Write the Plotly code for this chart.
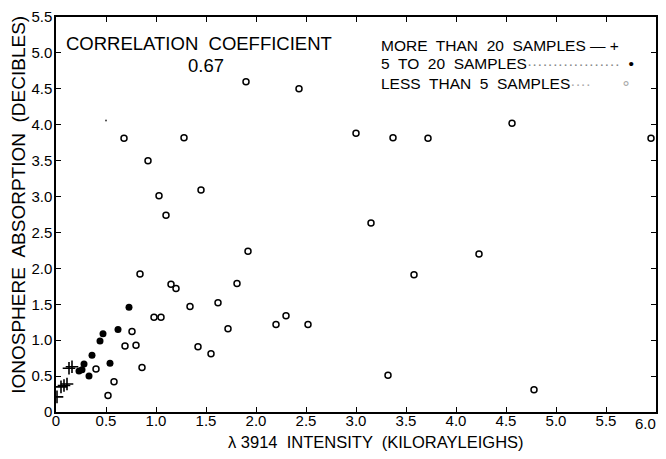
import plotly.graph_objects as go

# >20 samples (plus signs)
plus_x = [0.01, 0.05, 0.08, 0.11, 0.13, 0.16]
plus_y = [0.21, 0.35, 0.37, 0.39, 0.61, 0.63]

# 5 to 20 samples (filled dots)
dot_x = [0.73, 0.62, 0.47, 0.44, 0.36, 0.28, 0.54, 0.26, 0.23, 0.33]
dot_y = [1.46, 1.15, 1.09, 0.99, 0.79, 0.67, 0.68, 0.59, 0.57, 0.50]

# <5 samples (open circles)
circ_x = [1.90, 2.43, 0.68, 0.92, 1.03, 1.10, 1.28, 1.45,
          3.00, 3.37, 3.72, 4.56, 5.95, 3.15,
          1.92, 0.84, 1.15, 1.20, 1.81, 1.62, 1.34, 0.98, 1.05,
          2.20, 2.30, 2.52, 1.72, 0.76, 0.69, 0.80, 1.42, 1.55,
          0.86, 0.40, 0.58, 0.52,
          4.23, 3.58, 3.32, 4.78]
circ_y = [4.60, 4.50, 3.81, 3.50, 3.01, 2.74, 3.82, 3.09,
          3.88, 3.82, 3.81, 4.02, 3.81, 2.63,
          2.24, 1.92, 1.78, 1.72, 1.79, 1.52, 1.47, 1.32, 1.32,
          1.22, 1.34, 1.22, 1.16, 1.12, 0.92, 0.93, 0.91, 0.81,
          0.62, 0.60, 0.42, 0.23,
          2.20, 1.91, 0.51, 0.31]

# stray speck
speck_x = [0.50]
speck_y = [4.06]

x_ticks = [0, 0.5, 1.0, 1.5, 2.0, 2.5, 3.0, 3.5, 4.0, 4.5, 5.0, 5.5, 6.0]
x_labels = ["0", "0.5", "1.0", "1.5", "2.0", "2.5", "3.0", "3.5", "4.0", "4.5", "5.0", "5.5", "6.0"]
y_ticks = [0, 0.5, 1.0, 1.5, 2.0, 2.5, 3.0, 3.5, 4.0, 4.5, 5.0, 5.5]
y_labels = ["0", "0.5", "1.0", "1.5", "2.0", "2.5", "3.0", "3.5", "4.0", "4.5", "5.0", "5.5"]

FONT = "Liberation Sans"

fig = go.Figure()
fig.add_trace(go.Scatter(x=circ_x, y=circ_y, mode="markers",
                         marker=dict(symbol="circle-open", size=6, color="black",
                                     line=dict(width=1.5, color="black")),
                         showlegend=False))
fig.add_trace(go.Scatter(x=dot_x, y=dot_y, mode="markers",
                         marker=dict(symbol="circle", size=7, color="black"),
                         showlegend=False))
fig.add_trace(go.Scatter(x=plus_x, y=plus_y, mode="markers",
                         marker=dict(symbol="cross-thin", size=9, color="black",
                                     line=dict(width=1.6, color="black")),
                         showlegend=False))
fig.add_trace(go.Scatter(x=speck_x, y=speck_y, mode="markers",
                         marker=dict(symbol="circle", size=2, color="#444"),
                         showlegend=False))

axis_common = dict(showgrid=False, zeroline=False, showline=True, linecolor="black",
                   linewidth=1.5, mirror="ticks", ticks="inside", ticklen=5,
                   tickcolor="black", tickwidth=1, automargin=False,
                   ticklabeloverflow="allow")

tick_font = dict(family=FONT, size=15, color="black")
# last x label is drawn right-aligned at the frame edge so it is not clipped
fig.update_xaxes(range=[0, 6.0], tickvals=x_ticks, ticktext=x_labels[:-1] + [""],
                 tickfont=tick_font, ticklabelstandoff=-6, **axis_common)
fig.add_annotation(x=x_ticks[-1], y=-0.029, xref="x", yref="paper", text=x_labels[-1],
                   showarrow=False, xanchor="right", yanchor="middle", xshift=2,
                   font=tick_font)
fig.update_yaxes(range=[0, 5.5], tickvals=y_ticks, ticktext=y_labels,
                 tickfont=tick_font, ticklabelstandoff=-1, **axis_common)

# axis titles as annotations to match the off-centre positions
fig.add_annotation(x=0.533, y=-0.075, xref="paper", yref="paper",
                   text="λ 3914  INTENSITY  (KILORAYLEIGHS)", showarrow=False,
                   xanchor="center", yanchor="middle",
                   font=dict(family=FONT, size=16.5, color="black"))
fig.add_annotation(x=-0.063, y=0.525, xref="paper", yref="paper", textangle=-90,
                   text="IONOSPHERE  ABSORPTION  (DECIBLES)", showarrow=False,
                   xanchor="center", yanchor="middle",
                   font=dict(family=FONT, size=19, color="black"))

big_font = dict(family=FONT, size=18.5, color="black")
leg_font = dict(family=FONT, size=15.5, color="black")
fig.add_annotation(x=0.08, y=5.125, xref="x", yref="y", text="CORRELATION  COEFFICIENT",
                   showarrow=False, xanchor="left", yanchor="middle", font=big_font)
fig.add_annotation(x=1.5, y=4.83, xref="x", yref="y", text="0.67",
                   showarrow=False, xanchor="center", yanchor="middle", font=big_font)
fig.add_annotation(x=3.23, y=5.11, xref="x", yref="y", text="MORE  THAN  20  SAMPLES — +",
                   showarrow=False, xanchor="left", yanchor="middle", font=leg_font)
fig.add_annotation(x=3.23, y=4.85, xref="x", yref="y",
                   text="5  TO  20  SAMPLES<span style='color:#888'>··················</span>  •",
                   showarrow=False, xanchor="left", yanchor="middle", font=leg_font)
fig.add_annotation(x=3.23, y=4.58, xref="x", yref="y",
                   text="LESS  THAN  5  SAMPLES<span style='color:#aaa'>····       ∘</span>",
                   showarrow=False, xanchor="left", yanchor="middle", font=leg_font)

# page body has an 8px default margin; figure sized so no scrollbars appear
fig.update_layout(width=650, height=443, plot_bgcolor="white", paper_bgcolor="white",
                  margin=dict(l=48, r=2, t=9, b=39), showlegend=False)

fig.write_html("out.html")
